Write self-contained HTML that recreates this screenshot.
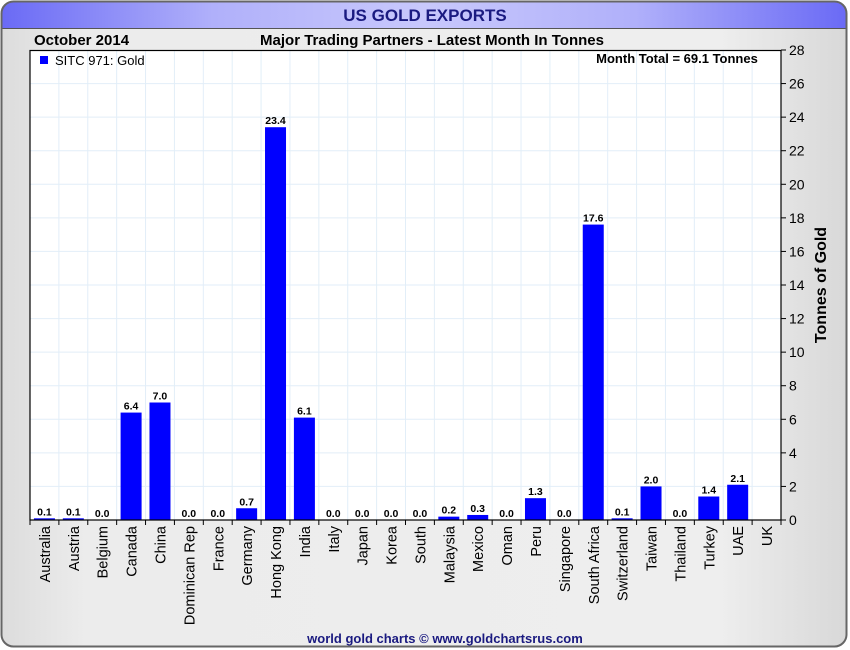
<!DOCTYPE html>
<html><head><meta charset="utf-8"><style>
html,body{margin:0;padding:0;background:#fff;}
svg{display:block;font-family:"Liberation Sans",Arial,sans-serif;}
</style></head><body>
<svg id="s" width="850" height="650" xmlns="http://www.w3.org/2000/svg">
<defs>
<linearGradient id="bg" x1="0" x2="1"><stop offset="0" stop-color="#dcdcdc"/><stop offset="0.1" stop-color="#ececec"/><stop offset="0.85" stop-color="#eeeeee"/><stop offset="1" stop-color="#d8d8d8"/></linearGradient>
<linearGradient id="hd" x1="0" x2="1"><stop offset="0" stop-color="#6a6af5"/><stop offset="0.25" stop-color="#b0b0fa"/><stop offset="0.5" stop-color="#c8c8fc"/><stop offset="0.75" stop-color="#b0b0fa"/><stop offset="1" stop-color="#6a6af5"/></linearGradient>
<clipPath id="fc"><rect x="1" y="1" width="846" height="646" rx="12"/></clipPath>
</defs>
<rect x="0" y="0" width="850" height="650" fill="#fff"/>
<g clip-path="url(#fc)">
<rect x="1" y="1" width="846" height="646" fill="url(#bg)"/>
<rect x="1" y="1" width="846" height="27" fill="url(#hd)"/>
<line x1="1" y1="28.5" x2="847" y2="28.5" stroke="#555" stroke-width="1"/>
</g>
<rect x="1.5" y="1.5" width="845" height="645" rx="12" fill="none" stroke="#666" stroke-width="2"/>
<text x="425" y="21" text-anchor="middle" font-size="17" font-weight="bold" fill="#1a1a80">US GOLD EXPORTS</text>
<text x="34" y="45" font-size="15" font-weight="bold" fill="#000">October 2014</text>
<text x="432" y="45" text-anchor="middle" font-size="15" font-weight="bold" fill="#000">Major Trading Partners - Latest Month In Tonnes</text>
<rect x="30" y="50" width="751" height="470" fill="#fff"/>
<g id="grid"></g>
<g id="bars"></g>
<rect x="30" y="50.5" width="751" height="469.5" fill="none" stroke="#000" stroke-width="1.2"/>
<rect x="40" y="56" width="8" height="8" fill="#0000ff"/>
<text x="55" y="65" font-size="13" fill="#000">SITC 971: Gold</text>
<text x="677" y="63" text-anchor="middle" font-size="13" font-weight="bold" fill="#000">Month Total = 69.1 Tonnes</text>
<text transform="translate(826,285) rotate(-90)" text-anchor="middle" font-size="16" font-weight="bold" fill="#000">Tonnes of Gold</text>
<text x="445" y="643" text-anchor="middle" font-size="13" font-weight="bold" fill="#1a1a80">world gold charts © www.goldchartsrus.com</text>
</svg>
<script>
var ns="http://www.w3.org/2000/svg";
function el(p,t,a,tx){var e=document.createElementNS(ns,t);for(var k in a)e.setAttribute(k,a[k]);if(tx!=null)e.textContent=tx;p.appendChild(e);return e;}
var g=document.getElementById("grid"),b=document.getElementById("bars"),s=document.getElementById("s");
var L=30,R=781,T=50,B=520,sc=(B-T)/28,n=26,w=(R-L)/n;
var names=["Australia","Austria","Belgium","Canada","China","Dominican Rep","France","Germany","Hong Kong","India","Italy","Japan","Korea","South","Malaysia","Mexico","Oman","Peru","Singapore","South Africa","Switzerland","Taiwan","Thailand","Turkey","UAE","UK"];
var v=[0.1,0.1,0,6.4,7.0,0,0,0.7,23.4,6.1,0,0,0,0,0.2,0.3,0,1.3,0,17.6,0.1,2.0,0,1.4,2.1,null];
for(var i=1;i<14;i++){var y=B-i*2*sc;el(g,"line",{x1:L,x2:R,y1:y,y2:y,stroke:"#e2eef8","stroke-width":1});}
for(var i=1;i<n;i++){var x=L+i*w;el(g,"line",{x1:x,x2:x,y1:T,y2:B,stroke:"#e2eef8","stroke-width":1});}
for(var i=0;i<=14;i++){var y=B-i*2*sc;el(s,"line",{x1:R,x2:R+5,y1:y,y2:y,stroke:"#000"});el(s,"text",{x:R+8,y:y+5,"font-size":14,fill:"#000"},String(i*2));}
for(var i=0;i<=n;i++){var x=L+i*w;el(s,"line",{x1:x,x2:x,y1:B,y2:B+5,stroke:"#000"});}
for(var i=0;i<n;i++){var cx=L+(i+0.5)*w;
 el(s,"text",{transform:"translate("+(cx+5.5)+","+(B+6)+") rotate(-90)","text-anchor":"end","font-size":14.5,fill:"#000"},names[i]);
 if(v[i]==null)continue;var h=v[i]*sc;
 if(h>0)el(b,"rect",{x:cx-10.5,y:B-h,width:21,height:h,fill:"#0000ff"});
 el(b,"text",{x:cx,y:B-h-3,"text-anchor":"middle","font-size":10.5,"font-weight":"bold",fill:"#000"},v[i].toFixed(1));}
</script>
</body></html>
